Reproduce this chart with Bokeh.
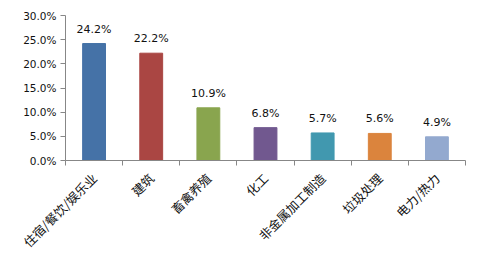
import math
from bokeh.plotting import figure
from bokeh.models import FixedTicker, PrintfTickFormatter, Range1d, ColumnDataSource
from bokeh.core.properties import value
from bokeh.embed import file_html
from bokeh.resources import INLINE

categories = ["住宿/餐饮/娱乐业", "建筑", "畜禽养殖", "化工", "非金属加工制造", "垃圾处理", "电力/热力"]
shares = [24.2, 22.2, 10.9, 6.8, 5.7, 5.6, 4.9]
colors = ["#4572A7", "#AA4643", "#89A54E", "#71588F", "#4198AF", "#DB843D", "#93A9CF"]
y_ticks = [0, 5, 10, 15, 20, 25, 30]

n = len(categories)
xs = [i + 0.5 for i in range(n)]
src = ColumnDataSource(dict(x=xs, top=shares, color=colors,
                            label=["%.1f%%" % v for v in shares]))

p = figure(width=480, height=266, output_backend="svg", toolbar_location=None,
           x_range=Range1d(0, n), y_range=Range1d(0, 30),
           min_border_left=65, min_border_right=15, min_border_top=15, min_border_bottom=106)
p.outline_line_color = None
p.xgrid.visible = False
p.ygrid.visible = False

p.vbar(x="x", top="top", width=0.4, color="color", source=src)
p.text(x="x", y="top", text="label", source=src, text_align="center", text_baseline="bottom",
       y_offset=-8, text_font=value("DejaVu Sans"), text_font_size="11px", text_color="#111111")

axis_color = "#878787"
p.yaxis.ticker = FixedTicker(ticks=y_ticks)
p.yaxis.formatter = PrintfTickFormatter(format="%.1f%%")
p.yaxis.axis_line_color = axis_color
p.yaxis.major_tick_line_color = axis_color
p.yaxis.major_tick_in = 0
p.yaxis.major_tick_out = 5
p.yaxis.minor_tick_line_color = None
p.yaxis.major_label_text_font = "DejaVu Sans"
p.yaxis.major_label_text_font_size = "10.5px"
p.yaxis.major_label_text_color = "#111111"
p.yaxis.major_label_standoff = 4

p.xaxis.ticker = FixedTicker(ticks=xs, minor_ticks=list(range(n + 1)))
p.xaxis.major_label_overrides = {x: c for x, c in zip(xs, categories)}
p.xaxis.major_tick_line_color = None
p.xaxis.minor_tick_line_color = axis_color
p.xaxis.minor_tick_in = 0
p.xaxis.minor_tick_out = 5
p.xaxis.axis_line_color = axis_color
p.xaxis.major_label_orientation = math.pi / 4
p.xaxis.major_label_text_font = "Noto Sans CJK SC"
p.xaxis.major_label_text_font_size = "12.5px"
p.xaxis.major_label_text_color = "#111111"
p.xaxis.major_label_standoff = 9

open("out.html", "w").write(file_html(p, INLINE))
